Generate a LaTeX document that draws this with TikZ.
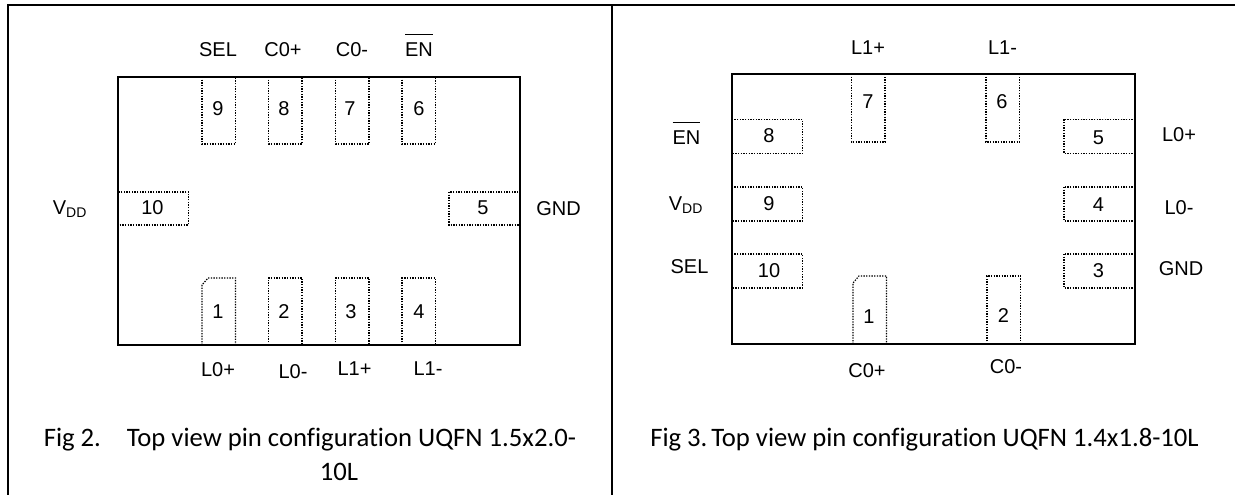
\documentclass[tikz,border=0pt]{standalone}
\usepackage{fontspec}
\setmainfont{Liberation Sans}
\newfontfamily\capfont[Ligatures=NoCommon]{Carlito}
\newcommand{\barEN}{$\overline{\mbox{\rule{0pt}{1.03em}EN}}$}
\newcommand{\Vdd}{V\textsubscript{DD}}
\tikzset{
  frame/.style={line width=1.5pt},
  chip/.style={line width=1.2pt},
  pin/.style={line width=0.9pt,dash pattern=on 1pt off 1pt},
  pinlabel/.style={inner sep=0pt,font=\fontsize{15}{18}\selectfont},
  figcaption/.style={inner sep=0pt,font=\capfont\fontsize{20}{24}\selectfont}
}
\begin{document}
\begin{tikzpicture}[x=0.75pt,y=-0.75pt]
  \useasboundingbox (0,0) rectangle (1235,495);

  % Table lines
  \draw[frame] (8,495) -- (8,5) -- (1235,5);
  \draw[frame] (611.5,5) -- (611.5,495);

  % Package outlines
  \draw[chip] (118,77) rectangle (520,345);
  \draw[chip] (732,74) rectangle (1135,344);

  % Fig 2 pins
  \foreach \xa in {202,268.5,335.5,402}
    \draw[pin] (\xa,77) rectangle (\xa+33.5,144);
  \foreach \xa in {268.5,335.5,402}
    \draw[pin] (\xa,345) rectangle (\xa+33.5,278);
  \draw[pin] (202,345) -- (202,285) -- (208,278) -- (235.5,278) -- (235.5,345);
  \draw[pin] (118,192) rectangle (188.5,225);
  \draw[pin] (449,192) rectangle (520,225);

  % Fig 3 pins
  \foreach \xa in {851.5,986}
    \draw[pin] (\xa,74) rectangle (\xa+33.5,142);
  \foreach \ya in {119.5,187,254}{
    \draw[pin] (732,\ya) rectangle (802.5,\ya+34);
    \draw[pin] (1064,\ya) rectangle (1135,\ya+34);
  }
  \draw[pin] (853,344) -- (853,283) -- (859,276) -- (886.5,276) -- (886.5,344);
  \draw[pin] (987,344) rectangle (1020.5,276);

  % Fig 2 labels
  \foreach \nm/\xa/\ya/\txt in {
    asel/218/50/SEL, acp/283/50/C0+, acm/352/50/C0-,
    avdd/70/209/\Vdd, agnd/558.5/209/GND,
    alp/218/370/L0+, alm/293/372/L0-, blp/354.5/369/L1+, blm/428/369/L1-,
    a9/218/109/9, a8/284/109/8, a7/350/109/7, a6/419/109/6,
    a10/152.5/208/10, a5/483/208/5,
    a1/218/312/1, a2/284/312/2, a3/351/312/3, a4/419/312/4}
    \node[pinlabel] (\nm) at (\xa,\ya) {\txt};
  \node[pinlabel,anchor=base] (aen) at (419,57) {\barEN};

  % Fig 3 labels
  \foreach \nm/\xa/\ya/\txt in {
    clp/868/48/L1+, clm/1002.5/48/L1-,
    cvdd/686/205/\Vdd, csel/689.5/267/SEL,
    dlp/1179/135/L0+, dlm/1179/208/L0-, cgnd/1181/269/GND,
    ccp/867/371/C0+, ccm/1006/367/C0-,
    c7/868/102/7, c6/1002/102/6, c8/769/136/8, c9/769/204/9, c10/769/271/10,
    c5/1098.5/138/5, c4/1098.5/205/4, c3/1098.5/271/3,
    c1/869/317/1, c2/1003.5/316/2}
    \node[pinlabel] (\nm) at (\xa,\ya) {\txt};
  \node[pinlabel,anchor=base] (cen) at (686.5,145) {\barEN};

  % Captions
  \node[figcaption,anchor=base west] (capa) at (43.5,446.5) {Fig 2.};
  \node[figcaption,anchor=base west] (capb) at (126.5,446.5) {Top view pin configuration UQFN 1.5x2.0-};
  \node[figcaption,anchor=base] (capc) at (339,480) {10L};
  \node[figcaption,anchor=base west] (capd) at (650,446.5) {Fig 3.};
  \node[figcaption,anchor=base west] (cape) at (711,446.5) {Top view pin configuration UQFN 1.4x1.8-10L};
\end{tikzpicture}
\end{document}
